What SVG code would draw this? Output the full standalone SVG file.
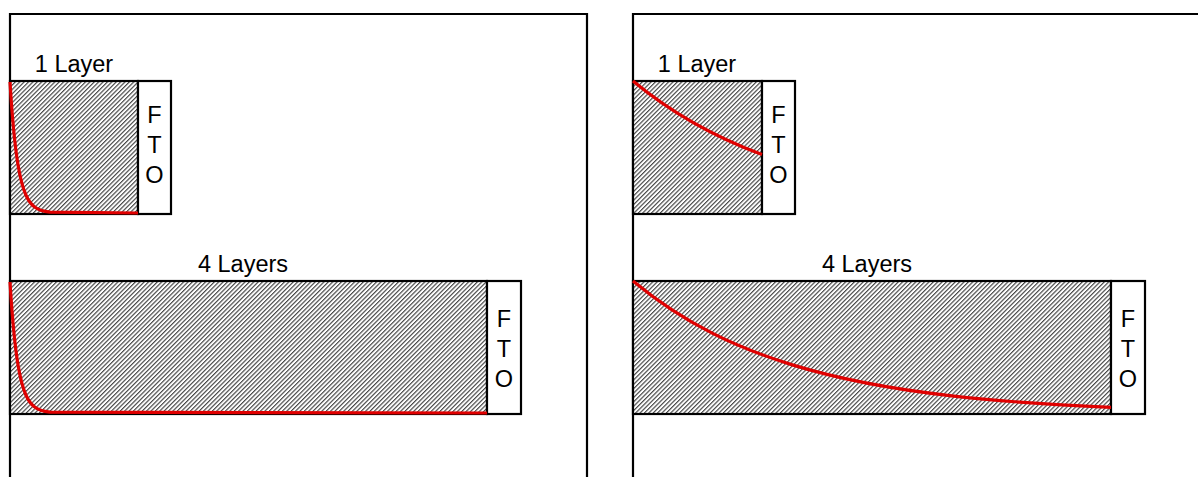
<svg xmlns="http://www.w3.org/2000/svg" width="1198" height="477" viewBox="0 0 1198 477">
<style>
.frame{fill:none;stroke:#000;stroke-width:2.2}
.layer{fill:url(#hatch);stroke:#000;stroke-width:2.2}
.fto{fill:#fff;stroke:#000;stroke-width:2.2}
.curve{fill:none;stroke:#e00000;stroke-width:3.2;stroke-linejoin:round}
text{font-family:"Liberation Sans",Arial,sans-serif;font-size:23.5px;fill:#000;text-anchor:middle}
</style>
<defs>
<pattern id="hatch" patternUnits="userSpaceOnUse" width="3.1" height="10" patternTransform="rotate(45)">
<rect width="3.1" height="10" fill="#fff"/>
<line x1="0.6" y1="0" x2="0.6" y2="10" stroke="#3a3a3a" stroke-width="1.1"/>
</pattern>
</defs>
<rect width="1198" height="477" fill="#fff"/>
<g id="frame-left"><path class="frame" d="M10,477 V14 H587 V477"/></g>
<g id="frame-right"><path class="frame" d="M633,477 V14 H1200"/></g>

<g id="left-1layer">
<text x="74" y="72">1 Layer</text>
<rect class="layer" x="10" y="81" width="128" height="133"/>
<rect class="fto" x="138" y="81" width="33" height="133"/>
<text x="154.5" y="123">F</text><text x="154.5" y="153">T</text><text x="154.5" y="183">O</text>
</g>
<g id="left-4layers">
<text x="243" y="272">4 Layers</text>
<rect class="layer" x="10" y="281" width="477" height="133"/>
<rect class="fto" x="487" y="281" width="34" height="133"/>
<text x="504" y="327">F</text><text x="504" y="357">T</text><text x="504" y="387">O</text>
</g>
<g id="right-1layer">
<text x="697" y="72">1 Layer</text>
<rect class="layer" x="633" y="81" width="129" height="133"/>
<rect class="fto" x="762" y="81" width="33" height="133"/>
<text x="778.5" y="123">F</text><text x="778.5" y="153">T</text><text x="778.5" y="183">O</text>
</g>
<g id="right-4layers">
<text x="867" y="272">4 Layers</text>
<rect class="layer" x="633" y="281" width="478" height="133"/>
<rect class="fto" x="1111" y="281" width="34" height="133"/>
<text x="1128" y="327">F</text><text x="1128" y="357">T</text><text x="1128" y="387">O</text>
</g>

<g id="curves">
<path class="curve" d="M10,82 C12.67,125.67 15.33,148.75 18,164.81 C20.67,180.87 23.33,189.36 26,195.27 C28.67,201.18 31.33,204.31 34,206.48 C39.33,210.83 44.67,211.53 50,212.12 L138,213"/>
<path class="curve" d="M10,282 C12.67,325.67 15.33,348.75 18,364.81 C20.67,380.87 23.33,389.36 26,395.27 C28.67,401.18 31.33,404.31 34,406.48 C39.33,410.83 44.67,411.53 50,412.12 L487,413"/>
<path class="curve" d="M633,81 C676,116.7 719,138.6 762,154.6"/>
<path class="curve" d="M633,281 C686.11,325.15 739.22,348.56 792.33,364.87 C845.44,381.18 898.56,389.82 951.67,395.85 C1004.78,401.88 1057.89,405.07 1111,407.3"/>
</g>
</svg>
